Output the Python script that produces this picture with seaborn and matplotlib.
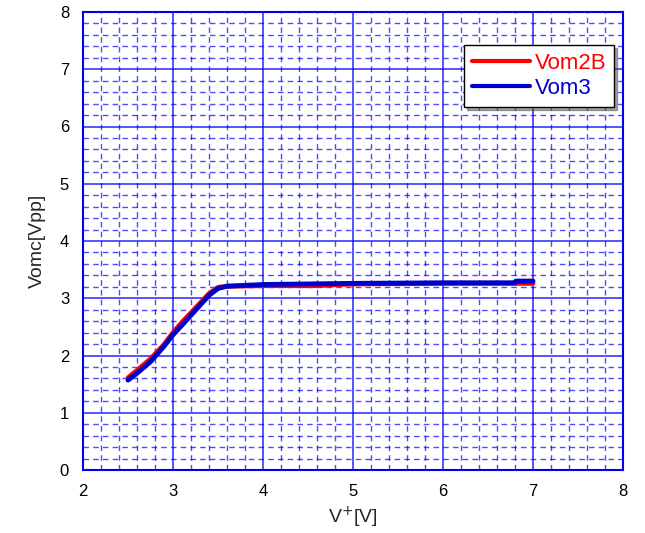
import matplotlib
matplotlib.use("Agg")
import matplotlib.pyplot as plt
import seaborn as sns
import pandas as pd
from matplotlib.ticker import MultipleLocator
from matplotlib.lines import Line2D

x_vom2b = [2.5, 2.6, 2.75, 2.9, 3.0, 3.1, 3.25, 3.4, 3.5, 3.6, 4.0, 4.6, 5.0, 6.0, 6.8, 7.0]
y_vom2b = [1.61, 1.74, 1.94, 2.19, 2.40, 2.58, 2.83, 3.08, 3.19, 3.21, 3.22, 3.22, 3.25, 3.26, 3.26, 3.26]
x_vom3 = [2.5, 2.6, 2.75, 2.9, 3.0, 3.1, 3.25, 3.4, 3.5, 3.6, 4.0, 5.0, 6.0, 6.8, 6.81, 7.0]
y_vom3 = [1.57, 1.69, 1.89, 2.16, 2.36, 2.53, 2.79, 3.05, 3.17, 3.21, 3.24, 3.26, 3.27, 3.27, 3.30, 3.30]
series_names = ["Vom2B", "Vom3"]
series_colors = ["#ff0000", "#0000cc"]

df = pd.concat([
    pd.DataFrame({"x": x_vom2b, "y": y_vom2b, "s": series_names[0]}),
    pd.DataFrame({"x": x_vom3, "y": y_vom3, "s": series_names[1]}),
])

sns.set_style("white")
plt.rcParams['font.family'] = ['Liberation Sans', 'DejaVu Sans']

fig = plt.figure(figsize=(6.45, 5.33), dpi=100)
ax = fig.add_axes([83/645, 1 - 470/533, 540/645, 458/533])

sns.lineplot(data=df, x="x", y="y", hue="s", palette=dict(zip(series_names, series_colors)),
             linewidth=3.5, sort=False, estimator=None, ax=ax, legend=False)

ax.set_xlim(2, 8)
ax.set_ylim(0, 8)
ax.xaxis.set_major_locator(MultipleLocator(1))
ax.yaxis.set_major_locator(MultipleLocator(1))
ax.xaxis.set_minor_locator(MultipleLocator(0.2))
ax.yaxis.set_minor_locator(MultipleLocator(0.2))
ax.grid(which="major", color="#0000ff", linewidth=1.1, linestyle="-", alpha=0.85)
ax.grid(which="minor", color="#0000ff", linewidth=1.0, linestyle=(0, (4, 3)), alpha=0.7)
ax.set_axisbelow(True)
for sp in ax.spines.values():
    sp.set_color("#0000ee")
    sp.set_linewidth(1.5)
ax.tick_params(which="both", length=0, labelsize=12, pad=10, colors="black")

ax.set_xlabel("V$^{+}$[V]", fontsize=14, labelpad=4)
ax.set_ylabel("Vomc[Vpp]", fontsize=14, labelpad=10)

handles = [Line2D([], [], color=c, linewidth=3) for c in series_colors]
leg = ax.legend(handles, series_names, loc="upper right", bbox_to_anchor=(0.983, 0.928),
                fontsize=16, frameon=True, fancybox=False, shadow=True, handlelength=2.6,
                borderpad=0.35, labelspacing=0.2, handletextpad=0.2, borderaxespad=0)
leg.get_frame().set_edgecolor("black")
leg.get_frame().set_linewidth(1.0)
for t, c in zip(leg.get_texts(), series_colors):
    t.set_color(c)

fig.savefig("out.png", dpi=100)
